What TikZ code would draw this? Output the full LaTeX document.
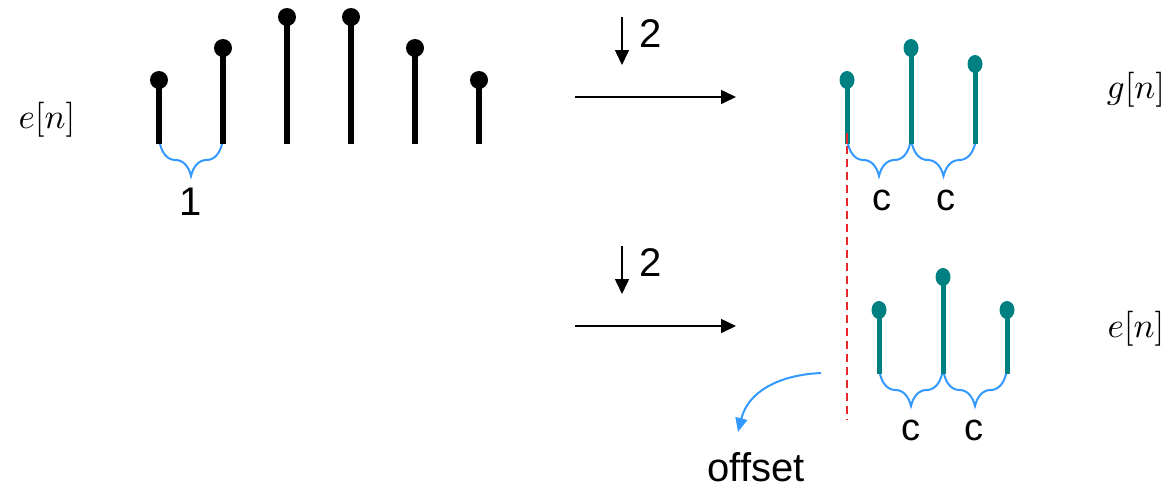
\documentclass[tikz,border=0pt]{standalone}
\usepackage{fontspec}
\setsansfont{Liberation Sans}
\usetikzlibrary{arrows.meta,decorations.pathreplacing,shapes.geometric}
\definecolor{stemteal}{HTML}{008080}
\definecolor{braceblue}{HTML}{3399FF}
\definecolor{dashred}{HTML}{E8262B}
\newcommand{\bigmath}[1]{\scalebox{3.5}{$#1$}}
\begin{document}
\begin{tikzpicture}[x=1pt,y=-1pt,
  blackstem/.style={line width=5.5pt,black},
  blackdot/.style={circle,fill=black,inner sep=0pt,minimum size=18pt},
  tealstem/.style={line width=5pt,stemteal},
  tealdot/.style={ellipse,fill=stemteal,inner sep=0pt,minimum width=15pt,minimum height=18pt},
  bracestyle/.style={decorate,decoration={brace,mirror,amplitude=32pt},line width=2pt,braceblue},
  label/.style={font=\sffamily\fontsize{40}{44}\selectfont,inner sep=0pt},
  clabel/.style={font=\sffamily\fontsize{38}{42}\selectfont,inner sep=0pt},
  mathlabel/.style={inner sep=0pt},
  flowarrow/.style={line width=1.6pt,-{Triangle[length=15pt,width=14pt]}},
]
\useasboundingbox (0,0) rectangle (1171,488);
% left signal
\node[mathlabel] (en) at (47,120) {\bigmath{e[n]}};
\foreach \i/\x/\t in {1/159/80,2/223/48,3/287/17,4/351/17,5/415/48,6/479/80}{
  \coordinate (b\i) at (\x,144);
  \node[blackdot] (d\i) at (\x,\t) {};
  \draw[blackstem] (b\i) -- (d\i.center);
}
\coordinate (br1a) at (160,144);
\coordinate (br1b) at (222,144);
\draw[bracestyle] (br1a) -- (br1b);
\node[label] (one) at (191,202) {1};

% top arrow
\coordinate (a1s) at (575,97);
\coordinate (a1e) at (736,97);
\draw[flowarrow] (a1s) -- (a1e);
\coordinate (da1s) at (622,17);
\coordinate (da1e) at (622,65);
\draw[flowarrow] (da1s) -- (da1e);
\node[label] (two1) at (651,34) {2};

% g[n]
\coordinate (rtop) at (847,133);
\coordinate (rbot) at (847,420);
\draw[dashred,line width=2pt,dash pattern=on 8pt off 5pt] (rtop) -- (rbot);
\foreach \i/\x/\t in {1/847/80,2/911/48,3/975/64}{
  \coordinate (gb\i) at (\x,144);
  \node[tealdot] (gd\i) at (\x,\t) {};
  \draw[tealstem] (gb\i) -- (gd\i.center);
}
\draw[dashred,line width=2pt] (rtop) -- (gb1);
\coordinate (gbra) at (848,144);
\coordinate (gbrb) at (910,144);
\coordinate (gbrc) at (912,144);
\coordinate (gbrd) at (975,144);
\draw[bracestyle] (gbra) -- (gbrb);
\draw[bracestyle] (gbrc) -- (gbrd);
\node[clabel] (gc1) at (882,200) {c};
\node[clabel] (gc2) at (946,200) {c};
\node[mathlabel] (gn) at (1136,90) {\bigmath{g[n]}};

% bottom arrow
\coordinate (a2s) at (575,326);
\coordinate (a2e) at (736,326);
\draw[flowarrow] (a2s) -- (a2e);
\coordinate (da2s) at (622,246);
\coordinate (da2e) at (622,294);
\draw[flowarrow] (da2s) -- (da2e);
\node[label] (two2) at (651,263) {2};

% e[n] output
\foreach \i/\x/\t in {1/879/310,2/943/277,3/1007/310}{
  \coordinate (eb\i) at (\x,374);
  \node[tealdot] (ed\i) at (\x,\t) {};
  \draw[tealstem] (eb\i) -- (ed\i.center);
}
\coordinate (ebra) at (880,374);
\coordinate (ebrb) at (942,374);
\coordinate (ebrc) at (944,374);
\coordinate (ebrd) at (1006,374);
\draw[bracestyle] (ebra) -- (ebrb);
\draw[bracestyle] (ebrc) -- (ebrd);
\node[clabel] (ec1) at (911,430) {c};
\node[clabel] (ec2) at (974,430) {c};
\node[mathlabel] (en2) at (1136,329) {\bigmath{e[n]}};

% offset arrow
\coordinate (ostart) at (821,373);
\coordinate (oend) at (738,432);
\draw[braceblue,line width=2pt,-{Triangle[length=14pt,width=12pt]}] (ostart) .. controls (778,375) and (748,392) .. (oend);
\node[label,anchor=base] (off) at (756,481) {offset};
\end{tikzpicture}
\end{document}
